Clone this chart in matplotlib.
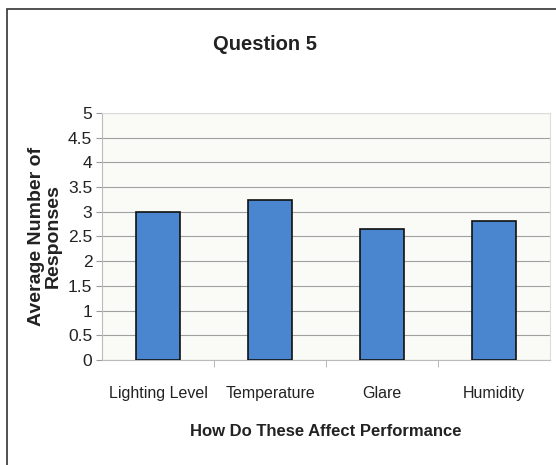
import matplotlib
matplotlib.use("Agg")
import matplotlib.pyplot as plt
from matplotlib.patches import Rectangle

categories = ["Lighting Level", "Temperature", "Glare", "Humidity"]
responses = [3.0, 3.24, 2.65, 2.82]
y_ticks = [0, 0.5, 1, 1.5, 2, 2.5, 3, 3.5, 4, 4.5, 5]
y_tick_labels = ["0", "0.5", "1", "1.5", "2", "2.5", "3", "3.5", "4", "4.5", "5"]

SANS = ["Liberation Sans", "DejaVu Sans"]

fig = plt.figure(figsize=(5.56, 4.65), dpi=100)
fig.patch.set_facecolor("white")

# outer chart frame (open to right/bottom like the scan)
fig.patches.append(Rectangle((7 / 556, -0.01), 1.0, 1 - 9 / 465 + 0.01,
                             transform=fig.transFigure, fill=False,
                             edgecolor="#333333", linewidth=1.2))

ax = fig.add_axes([102 / 556, 105 / 465, 448 / 556, 247 / 465])
ax.set_facecolor("#fafaf7")

x = range(len(categories))
ax.bar(x, responses, width=0.39, color="#4a86d0", edgecolor="#111111",
       linewidth=1.2, zorder=3)

ax.set_xlim(-0.5, len(categories) - 0.5)
ax.set_ylim(0, 5)
ax.set_yticks(y_ticks)
ax.set_yticklabels(y_tick_labels, family=SANS, fontsize=12.5, color="#222222")
ax.set_xticks(list(x))
ax.set_xticklabels(categories, family=SANS, fontsize=11.5, color="#222222")
ax.tick_params(axis="x", length=0, pad=19)
ax.tick_params(axis="y", length=4, color="#999999", pad=3)
ax.set_xticks([i + 0.5 for i in range(len(categories) - 1)], minor=True)
ax.tick_params(axis="x", which="minor", length=5, color="#aaaaaa")

ax.yaxis.grid(True, color="#a0a0a0", linewidth=0.8, zorder=0)
for side in ["top", "right"]:
    ax.spines[side].set_color("#dddddd")
ax.spines["left"].set_color("#bbbbbb")
ax.spines["bottom"].set_color("#bbbbbb")

ax.set_ylabel("Average Number of\nResponses", family=SANS, fontsize=14,
              fontweight="bold", color="#222222", linespacing=1.0)
ax.yaxis.set_label_coords(-0.09, 0.5)
ax.set_xlabel("How Do These Affect Performance", family=SANS, fontsize=12,
              fontweight="bold", color="#222222", labelpad=16)

fig.text(265 / 556, 1 - 45 / 465, "Question 5", family=SANS, fontsize=14.5,
         fontweight="bold", color="#222222", ha="center", va="center")

fig.savefig("out.png", dpi=100)
